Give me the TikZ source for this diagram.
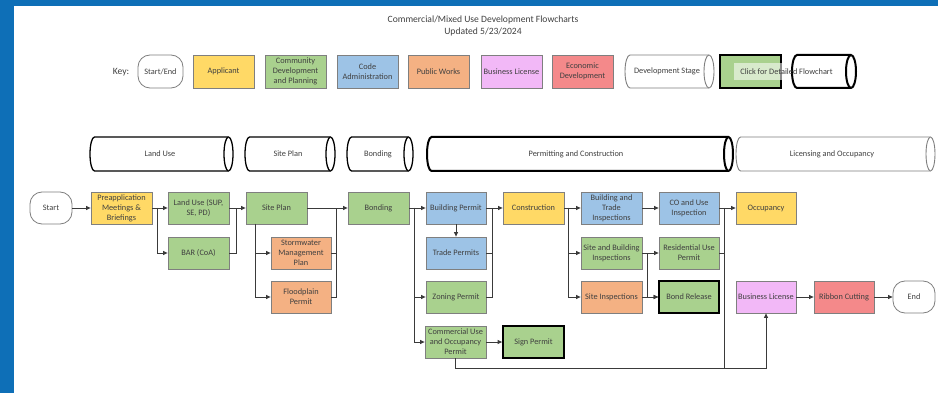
\documentclass[tikz,border=0pt]{standalone}
\usepackage{fontspec}
\setmainfont{Carlito}
\usetikzlibrary{arrows.meta}
\definecolor{bgblue}{HTML}{0E6FB7}
\definecolor{cyellow}{HTML}{FFD966}
\definecolor{cgreen}{HTML}{A9D18E}
\definecolor{cblue}{HTML}{9DC3E6}
\definecolor{corange}{HTML}{F4B183}
\definecolor{cpink}{HTML}{F2B8F7}
\definecolor{cred}{HTML}{F4898A}
\definecolor{bordergray}{HTML}{7F7F7F}
\definecolor{txtgray}{HTML}{404040}
\definecolor{linegray}{HTML}{3A3A3A}
\newcommand{\boxfont}{\fontsize{8.3}{10}\selectfont}
\newcommand{\titlefont}{\fontsize{9.6}{12}\selectfont}
\newcommand{\stagecyl}[6]{%
  \pgfmathsetmacro{\cry}{(#5-#3)/2}%
  \draw[#1] ({#2+#6},#3) -- ({#4-#6},#3) arc[start angle=-90,end angle=90,x radius=#6,y radius=\cry] -- ({#2+#6},#5) arc[start angle=90,end angle=270,x radius=#6,y radius=\cry] -- cycle;
  \draw[#1] ({#4-#6},#5) arc[start angle=90,end angle=270,x radius=#6,y radius=\cry];
}
\tikzset{
  fl/.style={draw=bordergray, line width=0.8pt, minimum width=61pt, minimum height=32pt, inner sep=1pt, align=center, text=txtgray, font=\boxfont},
  app/.style={fl, fill=cyellow},
  cdp/.style={fl, fill=cgreen},
  codeadm/.style={fl, fill=cblue},
  pubw/.style={fl, fill=corange},
  busl/.style={fl, fill=cpink},
  econ/.style={fl, fill=cred},
  heavy/.style={draw=black, line width=1.8pt},
  term/.style={fl, fill=white, rounded corners=12pt, minimum width=42pt},
  ln/.style={draw=linegray, line width=0.8pt},
  arr/.style={ln, -{Triangle[length=4.5pt,width=4pt]}},
  lbl/.style={font=\boxfont, text=txtgray, inner sep=0pt},
  cylthin/.style={fill=white, draw=black, line width=1.3pt},
  cylthick/.style={fill=white, draw=black, line width=2pt},
  cylgray/.style={fill=white, draw=bordergray, line width=0.9pt},
}
\begin{document}
\begin{tikzpicture}[x=1pt,y=-1pt]
\useasboundingbox (0,0) rectangle (938,393);
\fill[bgblue] (0,0) rectangle (938,393);
\fill[white] (14,6) rectangle (938,393);

% title
\node[font=\titlefont, text=txtgray, align=center] (title) at (483,26) {Commercial/Mixed Use Development Flowcharts\\Updated 5/23/2024};

% key
\node[font=\titlefont, text=txtgray] (keylbl) at (121,72) {Key:};
\node[term, minimum width=45pt, minimum height=33pt] (kse) at (160.5,71.5) {Start/End};
\node[app, minimum height=33pt] (kapp) at (223.5,71.5) {Applicant};
\node[cdp, minimum height=33pt] (kcdp) at (295.5,71.5) {Community\\Development\\and Planning};
\node[codeadm, minimum height=33pt] (kca) at (367.5,71.5) {Code\\Administration};
\node[pubw, minimum height=33pt] (kpw) at (438.5,71.5) {Public Works};
\node[busl, minimum height=33pt] (kbl) at (511.5,71.5) {Business License};
\node[econ, minimum height=33pt] (ked) at (582.5,71.5) {Economic\\Development};
\stagecyl{cylgray}{625}{55}{714}{88}{5}
\node[lbl] (kds) at (667,71.5) {Development Stage};
\node[cdp, heavy, minimum height=33pt] (kclick) at (750.5,71.5) {};
\stagecyl{cylthick}{792}{55}{856}{88}{5}
\fill[white, opacity=0.55] (734,63) rectangle (789,80);
\node[lbl] (kclicktxt) at (786.5,72) {Click for Detailed Flowchart};

% stages
\stagecyl{cylthin}{90}{137}{233}{171}{4.5}
\node[lbl] (s1) at (160,154) {Land Use};
\stagecyl{cylthin}{245}{137}{335}{171}{4.5}
\node[lbl] (s2) at (288,154) {Site Plan};
\stagecyl{cylthin}{347}{137}{413}{171}{4.5}
\node[lbl] (s3) at (378,154) {Bonding};
\stagecyl{cylthick}{427}{137}{733}{171}{4.5}
\node[lbl] (s4) at (576,154) {Permitting and Construction};
\stagecyl{cylgray}{736}{137}{935}{171}{4.5}
\node[lbl] (s5) at (832,154) {Licensing and Occupancy};

% flow nodes
\node[term] (start) at (51,208) {Start};
\node[app] (pre) at (121.5,208) {Preapplication\\Meetings \&\\Briefings};
\node[cdp] (lu) at (198.5,208) {Land Use (SUP,\\SE, PD)};
\node[cdp] (bar) at (198.5,253) {BAR (CoA)};
\node[cdp] (sp) at (276.5,208) {Site Plan};
\node[pubw, minimum width=60pt] (sw) at (301,253) {Stormwater\\Management\\Plan};
\node[pubw, minimum width=60pt] (fp) at (301,297) {Floodplain\\Permit};
\node[cdp] (bond) at (378.5,208) {Bonding};
\node[codeadm, minimum width=60pt] (bp) at (456,208) {Building Permit};
\node[codeadm, minimum width=60pt] (tp) at (456,253) {Trade Permits};
\node[cdp, minimum width=60pt] (zp) at (456,297) {Zoning Permit};
\node[cdp] (cu) at (455.5,342) {Commercial Use\\and Occupancy\\Permit};
\node[cdp, heavy] (sign) at (533.5,342) {Sign Permit};
\node[app] (con) at (533.5,208) {Construction};
\node[codeadm] (bti) at (611.5,208) {Building and\\Trade\\Inspections};
\node[cdp] (sbi) at (611.5,253) {Site and Building\\Inspections};
\node[pubw] (si) at (611.5,297) {Site Inspections};
\node[codeadm, minimum width=60pt] (co) at (689,208) {CO and Use\\Inspection};
\node[cdp, minimum width=60pt] (rup) at (689,253) {Residential Use\\Permit};
\node[cdp, heavy, minimum width=60pt] (br) at (689,297) {Bond Release};
\node[app, minimum width=60pt] (occ) at (766,208) {Occupancy};
\node[busl, minimum width=60pt] (bl) at (766,297) {Business License};
\node[econ, minimum width=60pt] (rc) at (844,297) {Ribbon Cutting};
\node[term] (end) at (914,297) {End};

% junctions
\coordinate (j1) at (157,208);
\coordinate (j2) at (236,208);
\coordinate (j3) at (336,208);
\coordinate (j4) at (255,224);
\coordinate (j5) at (414,208);
\coordinate (j6) at (492,208);
\coordinate (j7) at (568,208);
\coordinate (j8) at (647,253);
\coordinate (j9) at (724,208);
\coordinate (j10) at (724,368);
\coordinate (jb) at (766,368);
\coordinate (jc) at (455.5,368);

% connectors
\draw[arr] (start) -- (pre);
\draw[arr] (pre) -- (lu);
\draw[arr] (j1) |- (bar.west);
\draw[arr] (lu) -- (sp);
\draw[ln] (bar.east) -| (j2);
\draw[arr] (sp) -- (bond);
\draw[arr] (j4) |- (sw.west);
\draw[arr] (j4) |- (fp.west);
\draw[ln] (sw.east) -| (j3);
\draw[ln] (fp.east) -| (j3);
\draw[arr] (bond) -- (bp);
\draw[arr] (j5) |- (zp.west);
\draw[arr] (j5) |- (cu.west);
\draw[arr] (bp) -- (tp);
\draw[arr] (bp) -- (con);
\draw[ln] (tp.east) -| (j6);
\draw[ln] (zp.east) -| (j6);
\draw[arr] (cu) -- (sign);
\draw[arr] (con) -- (bti);
\draw[arr] (j7) |- (sbi.west);
\draw[arr] (j7) |- (si.west);
\draw[arr] (bti) -- (co);
\draw[arr] (sbi) -- (rup);
\draw[arr] (j8) |- (br.west);
\draw[arr] (si) -- (br);
\draw[arr] (co) -- (occ);
\draw[ln] (rup.east) -| (j9);
\draw[ln] (j9) -- (j10);
\draw[arr] (cu.south) -- (jc) -- (jb) -- (bl.south);
\draw[arr] (bl) -- (rc);
\draw[arr] (rc) -- (end);
\end{tikzpicture}
\end{document}
